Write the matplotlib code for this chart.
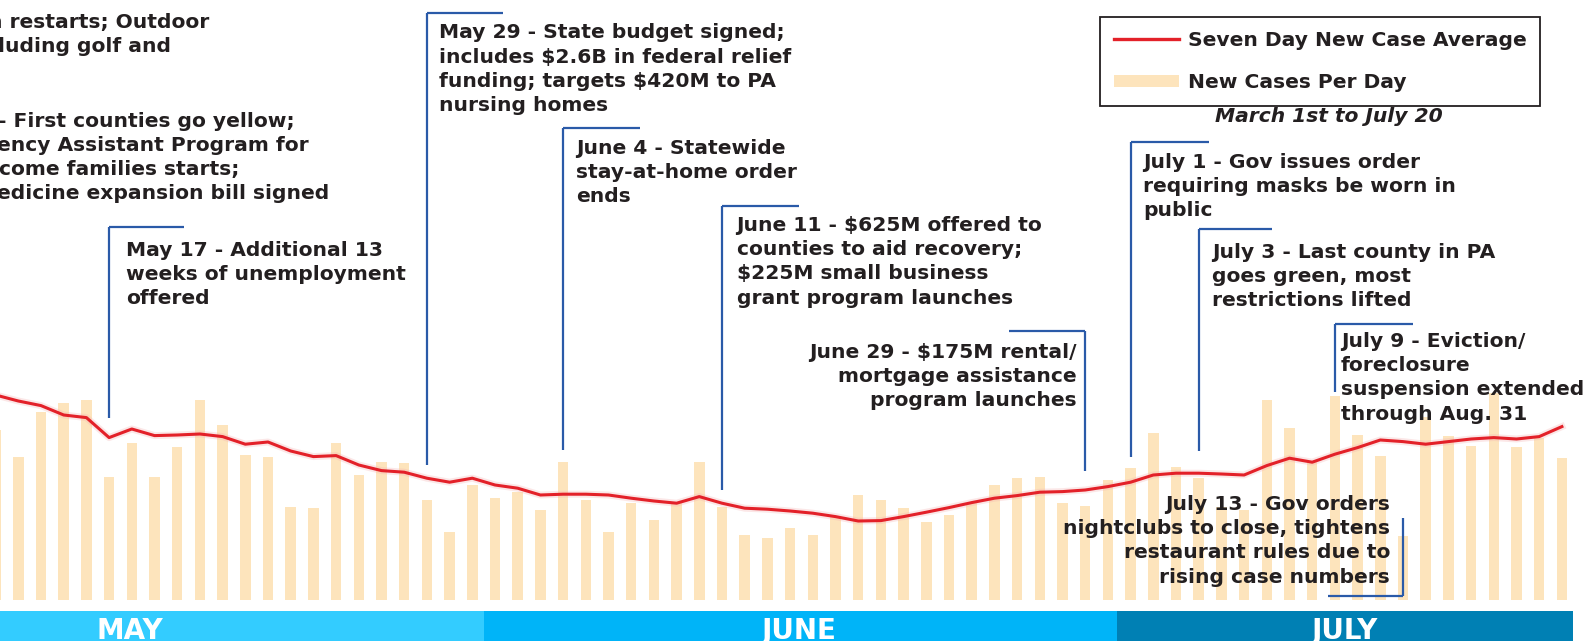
import numpy as np
import matplotlib
matplotlib.use("Agg")
import matplotlib.pyplot as plt
from matplotlib.lines import Line2D
from matplotlib.patches import Patch

# daily new cases, one bar per day (the first bar is cut by the left edge)
new_cases = [850, 715, 940, 985, 1000, 615, 785, 615, 765, 1000,
             875, 725, 715, 465, 460, 785, 625, 690, 685, 500,
             340, 575, 510, 540, 450, 690, 500, 340, 485, 400,
             485, 690, 465, 325, 310, 360, 325, 415, 525, 500,
             460, 390, 425, 485, 575, 610, 615, 485, 470, 600,
             660, 835, 665, 610, 465, 450, 1000, 860, 690, 1020,
             825, 720, 320, 915, 820, 770, 1035, 765, 810, 710]

seven_day_avg = [1025, 995, 972, 925, 912, 812, 855, 822, 825, 830,
                 817, 779, 790, 745, 717, 722, 675, 647, 639, 609,
                 589, 609, 575, 559, 525, 529, 529, 525, 509, 495,
                 484, 517, 484, 459, 454, 445, 434, 417, 395, 397,
                 417, 439, 462, 487, 509, 522, 539, 542, 550, 567,
                 589, 625, 634, 634, 630, 625, 672, 709, 689, 729,
                 762, 800, 792, 779, 792, 805, 812, 805, 817, 867]

months = ["MAY", "JUNE", "JULY"]
month_edges = [-2, 21.5, 49.4, 69.5]
month_label_at = [5.9, 35.4, 59.45]

# events: text lines, bar the marker points at
events = [
    (["May 17 - Additional 13", "weeks of unemployment", "offered"], 5),
    (["May 29 - State budget signed;", "includes $2.6B in federal relief",
      "funding; targets $420M to PA", "nursing homes"], 19),
    (["June 4 - Statewide", "stay-at-home order", "ends"], 25),
    (["June 11 - $625M offered to", "counties to aid recovery;",
      "$225M small business", "grant program launches"], 32),
    (["June 29 - $175M rental/", "mortgage assistance", "program launches"], 48),
    (["July 1 - Gov issues order", "requiring masks be worn in", "public"], 50),
    (["July 3 - Last county in PA", "goes green, most", "restrictions lifted"], 53),
    (["July 9 - Eviction/", "foreclosure", "suspension extended",
      "through Aug. 31"], 59),
    (["July 13 - Gov orders", "nightclubs to close, tightens",
      "restaurant rules due to", "rising case numbers"], 62),
]
# where each event sits: text x, first baseline, align, marker top, bottom, arm
event_layout = [
    (126, 256, "left", 226.7, 418, 75, "top"),
    (438.7, 38.5, "left", 13.2, 465, 76, "top"),
    (576.5, 154, "left", 127.7, 450, 77, "top"),
    (736.6, 231, "left", 205.7, 490, 77, "top"),
    (1077, 358, "right", 331, 471, -76, "top"),
    (1143, 168, "left", 141.8, 456.7, 78, "top"),
    (1211.7, 258, "left", 229, 451, 73, "top"),
    (1341, 347, "left", 324, 392, 78, "top"),
    (1390, 510, "right", 518, 596, -75, "bottom"),
]

INK = "#231f20"
BLUE = "#2a5aa8"
RED = "#e32129"
PEACH = "#fde4bc"
FS = 14.6

# pixel helpers (bar 0 centre, bar pitch, baseline, cases per pixel)
X0, DX = -4.4, 22.7
BASE, PER_PX = 600, 5
def dx(p): return (p - X0) / DX
def dy(p): return (BASE - p) * PER_PX

fig = plt.figure(figsize=(15.88, 6.41), dpi=100)
ax = fig.add_axes([0, 41 / 641, 1, 600 / 641])
ax.set_xlim(dx(0), dx(1588))
ax.set_ylim(0, 3000)
ax.axis("off")

x = np.arange(len(new_cases))
ax.bar(x, new_cases, width=0.46, color=PEACH, zorder=1)
ax.plot(x, seven_day_avg, color="#f4b0b0", lw=5, alpha=0.3, zorder=2)
ax.plot(x, seven_day_avg, color=RED, lw=2.2, zorder=3)

def block(lines, px, py, ha="left"):
    for k, line in enumerate(lines):
        ax.text(dx(px), dy(py + 24.2 * k), line, ha=ha, va="baseline",
                fontsize=FS, fontweight="bold", color=INK, zorder=5)

# text cut off by the left edge
block(["n restarts; Outdoor"], -11.5, 28.3)
block(["luding golf and"], -2, 52.3)
block(["- First counties go yellow;"], -2, 126.7)
block(["ency Assistant Program for"], -3, 150.9)
block(["come families starts;"], -1, 175.1)
block(["edicine expansion bill signed"], -3, 199.3)

for (lines, bar), (tx, ty, ha, top, bottom, arm, side) in zip(events, event_layout):
    block(lines, tx, ty, ha)
    xb = x[bar]
    ya = dy(top) if side == "top" else dy(bottom)
    ax.plot([xb + arm / DX, xb], [ya, ya], color=BLUE, lw=1.6, zorder=4,
            solid_capstyle="butt")
    ax.plot([xb, xb], [dy(top), dy(bottom)], color=BLUE, lw=1.6, zorder=4,
            solid_capstyle="butt")

leg = ax.legend(handles=[Line2D([], [], color=RED, lw=2.4),
                         Patch(facecolor=PEACH, edgecolor="none")],
                labels=["Seven Day New Case Average", "New Cases Per Day"],
                loc="upper left", bbox_to_anchor=(1100 / 1588, 1 - 17 / 641),
                bbox_transform=fig.transFigure, borderaxespad=0,
                prop={"weight": "bold", "size": FS}, frameon=True,
                fancybox=False, framealpha=1, edgecolor=INK,
                borderpad=0.68, labelspacing=1.15, handlelength=3.2,
                handleheight=0.5, handletextpad=0.45)
leg.get_frame().set_linewidth(1.3)
for t in leg.get_texts():
    t.set_color(INK)

ax.text(dx(1329), dy(121.7), "March 1st to July 20", ha="center", va="baseline",
        fontsize=FS, fontweight="bold", style="italic", color=INK)

# month bands along the bottom
bx = fig.add_axes([0, 0, 1, 30 / 641])
bx.set_xlim(dx(0), dx(1588))
bx.set_ylim(0, 1)
bx.axis("off")
band_colors = ["#33ccff", "#00b4f8", "#0080b4"]
for i, m in enumerate(months):
    bx.axvspan(month_edges[i], month_edges[i + 1], color=band_colors[i], lw=0)
    bx.text(month_label_at[i], 2 / 30, m, ha="center", va="baseline",
            color="white", fontsize=20, fontweight="bold")

fig.savefig("out.png", dpi=100)
